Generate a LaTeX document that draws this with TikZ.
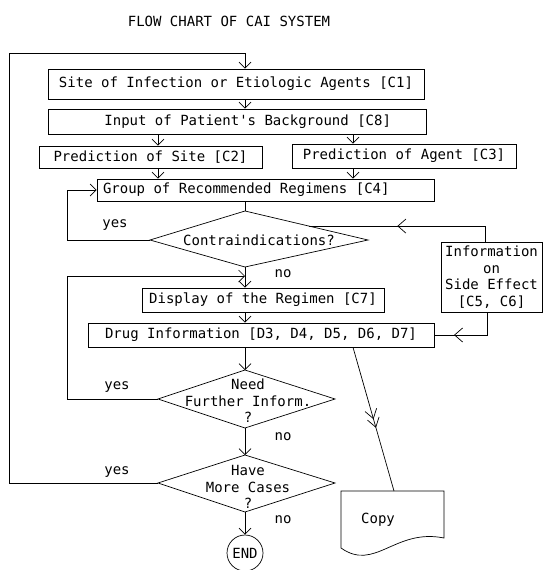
\documentclass[tikz,border=0pt]{standalone}
\usepackage{fontspec}
\setmainfont{DejaVu Sans Mono}[Ligatures=TeXOff]
\usetikzlibrary{arrows.meta,decorations.markings,calc}

\begin{document}
\begin{tikzpicture}[x=1pt, y=-1pt, line width=0.7pt,
  >={Straight Barb[length=6pt,width=12pt]},
  font=\fontsize{14}{16.5}\selectfont,
  bloc/.style={draw, inner sep=0pt, align=center},
  txt/.style={inner sep=0pt, align=center},
  milieu/.style={postaction={decorate}, decoration={markings,
    mark=at position #1 with {\arrow{Straight Barb[length=8pt,width=14pt]}}}},
  fleche2/.style={postaction={decorate}, decoration={markings,
    mark=at position 0.5 with {\arrow{Straight Barb[length=9pt,width=12pt]}},
    mark=at position 0.56 with {\arrow{Straight Barb[length=9pt,width=12pt]}}}}]
  \useasboundingbox (0,0) rectangle (543,570);
  % Titre
  \node[txt] (titre) at (229,21) {FLOW CHART OF CAI SYSTEM};
  % Colonnes des fleches
  \coordinate (axe) at (245,0);
  \coordinate (gauche) at (158,0);
  \coordinate (droite) at (353,0);
  % Blocs
  \node[bloc, minimum width=376pt, minimum height=30pt] (c1) at (236,84) {Site of Infection or Etiologic Agents [C1]};
  \node[bloc, minimum height=25pt, inner xsep=35pt, text width=308pt, align=flush right] (c8) at (237,121.5) {Input of Patient's Background [C8]};
  \node[bloc, minimum width=223pt, minimum height=22pt] (c2) at (150.5,157) {Prediction of Site [C2]};
  \node[bloc, minimum width=224pt, minimum height=24pt] (c3) at (404,156) {Prediction of Agent [C3]};
  \node[bloc, minimum height=22pt, inner xsep=6pt, text width=325pt, align=flush left] (c4) at (265.5,190) {Group of Recommended Regimens [C4]};
  \node[bloc, minimum width=242pt, minimum height=24pt] (c7) at (263,300) {Display of the Regimen [C7]};
  \node[bloc, minimum width=346pt, minimum height=24pt] (drug) at (261,335) {Drug Information [D3, D4, D5, D6, D7]};
  \node[bloc, minimum width=101pt, minimum height=70pt] (info) at (491.5,277) {Information\\on\\Side Effect\\{}[C5, C6]};
  % Losange : contre-indications
  \coordinate (c1n) at (245,211);
  \coordinate (c1e) at (368,240);
  \coordinate (c1s) at (245,267);
  \coordinate (c1w) at (150,240);
  \draw (c1n) -- (c1e) -- (c1s) -- (c1w) -- cycle;
  \node[txt] (contra) at (259,240) {Contraindications?};
  % Losange : autre information
  \coordinate (d2n) at (245,370);
  \coordinate (d2e) at (335,399);
  \coordinate (d2s) at (245,428);
  \coordinate (d2w) at (158,399);
  \draw (d2n) -- (d2e) -- (d2s) -- (d2w) -- cycle;
  \node[txt] (need) at (248,401) {Need\\Further Inform.\\?};
  % Losange : autres cas
  \coordinate (d3n) at (245,455);
  \coordinate (d3e) at (335,483);
  \coordinate (d3s) at (245,512);
  \coordinate (d3w) at (158,483);
  \draw (d3n) -- (d3e) -- (d3s) -- (d3w) -- cycle;
  \node[txt] (cases) at (248,487) {Have\\More Cases\\?};
  % Fin
  \node[draw, circle, minimum size=36pt, inner sep=0pt] (fin) at (245,553) {END};
  % Document Copy
  \draw (341,491) -- (444,491) -- (444,538) .. controls (395,528) and (375,572) .. (341,548) -- cycle;
  \node[txt] (copy) at (378,520) {Copy};
  \coordinate (copyin) at (394,491);
  % Fleches principales
  \draw[->] (c1.south -| axe) -- (c8.north -| axe);
  \draw[->] (c8.south -| gauche) -- (c2.north -| gauche);
  \draw[->] (c8.south -| droite) -- (c3.north -| droite);
  \draw[->] (c2.south -| gauche) -- (c4.north -| gauche);
  \draw[->] (c3.south -| droite) -- (c4.north -| droite);
  \draw (c4.south -| axe) -- (c1n);
  \draw[->] (c1s) -- (c7.north -| axe);
  \draw[->] (c7.south -| axe) -- (drug.north -| axe);
  \draw[->] (drug.south -| axe) -- (d2n);
  \draw[->] (d2s) -- (d3n);
  \draw[->] (d3s) -- (fin);
  \draw[fleche2] ([xshift=92pt]drug.south) -- (copyin);
  % Boucles yes
  \coordinate (jonction) at (245,276);
  \coordinate (haut) at (9,53);
  \draw[->] (c1w) -- ++(-83,0) |- (c4.west);
  \draw[->] (d2w) -- ++(-91,0) |- (jonction);
  \draw[->] (d3w) -| (haut) -| (c1.north -| axe);
  % Effets secondaires
  \coordinate (c1hit) at ($(c1n)!0.52!(c1e)$);
  \draw[milieu=0.54] ([xshift=-6pt]info.north) |- (c1hit);
  \draw[milieu=0.74] ([xshift=-4pt]info.south) |- (drug.east);
  % Etiquettes
  \node[txt] (oui1) at (115,225) {yes};
  \node[txt] (oui2) at (117,387) {yes};
  \node[txt] (oui3) at (117,472) {yes};
  \node[txt] (non1) at (283,274) {no};
  \node[txt] (non2) at (283,437) {no};
  \node[txt] (non3) at (283,520) {no};
\end{tikzpicture}
\end{document}
